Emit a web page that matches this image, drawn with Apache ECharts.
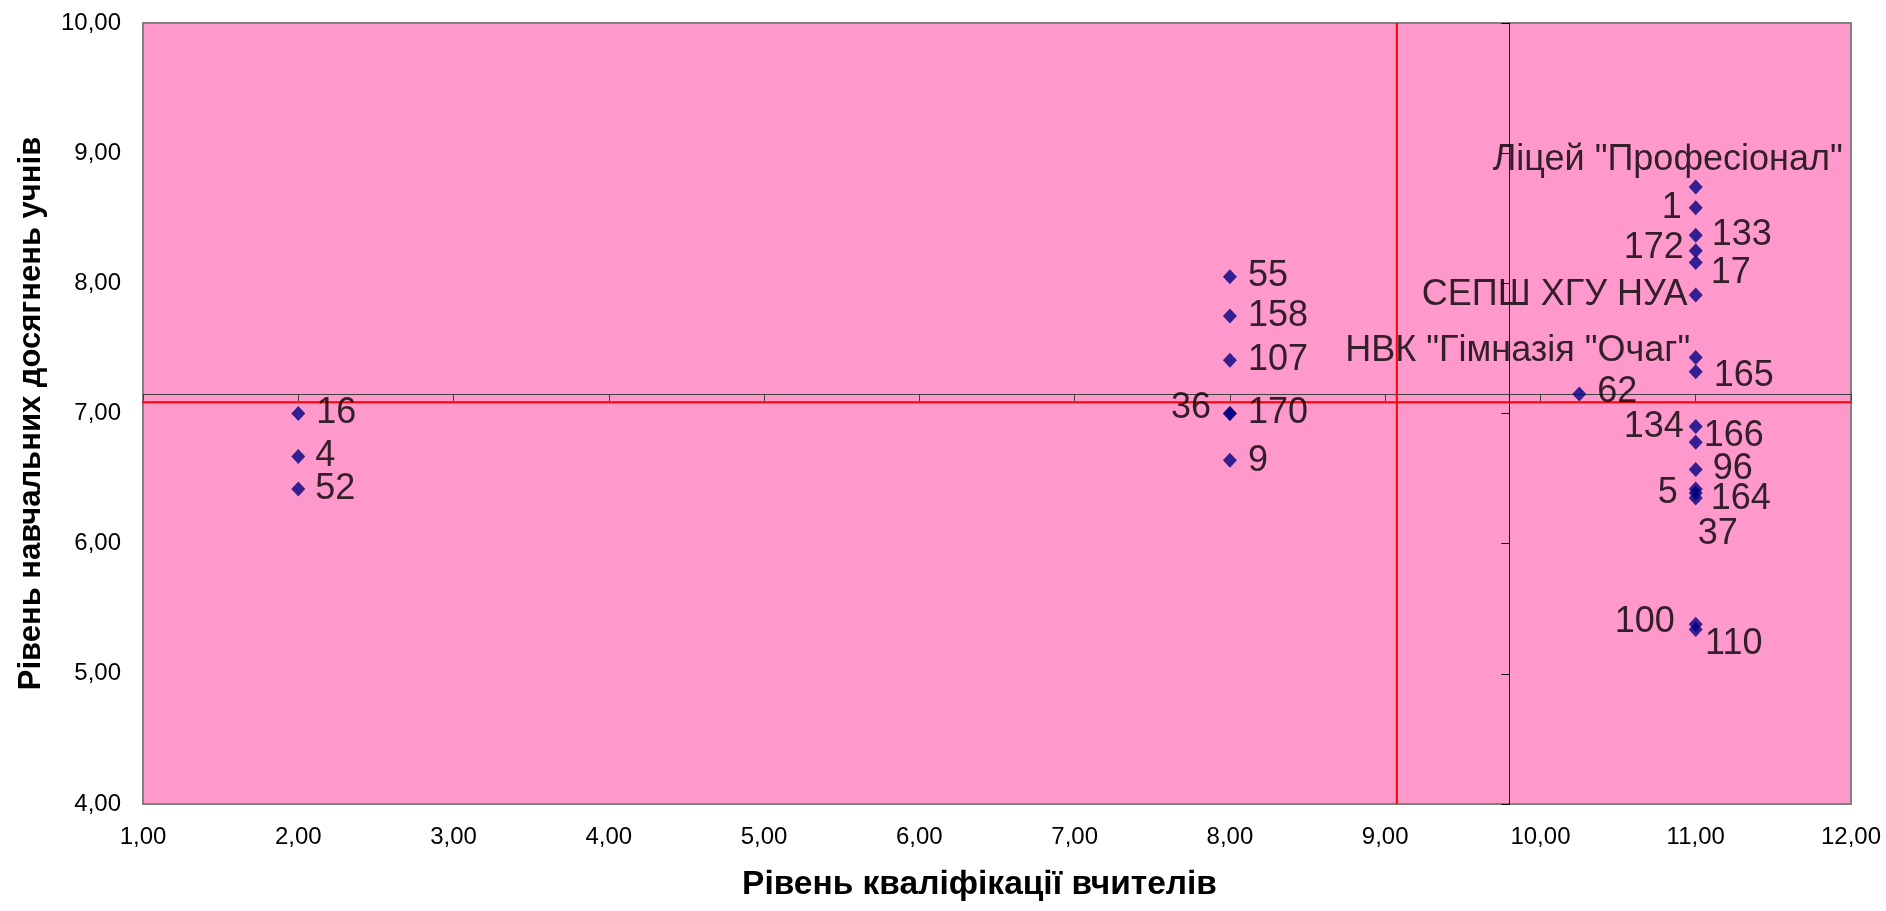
<!DOCTYPE html>
<html>
<head>
<meta charset="utf-8">
<style>html,body{margin:0;padding:0;background:#fff}#chart{width:1886px;height:911px}</style>
<script src="https://cdn.jsdelivr.net/npm/echarts@6/dist/echarts.min.js"></script>
</head>
<body>
<div id="chart"></div>
<script>
// ---- data ----
const schoolNames = ['16','4','52','55','158','107','36','170','9','Ліцей "Професіонал"','1','133','172','17','СЕПШ ХГУ НУА','НВК "Гімназія "Очаг"','165','62','134','166','96','37','5','164','100','110'];
const teacherLevel = [2,2,2,8,8,8,8,8,8,11,11,11,11,11,11,11,11,10.25,11,11,11,11,11,11,11,11];
const studentLevel = [7.00,6.67,6.42,8.05,7.75,7.41,7.00,7.00,6.64,8.74,8.58,8.37,8.25,8.16,7.91,7.43,7.32,7.15,6.90,6.78,6.57,6.42,6.39,6.35,5.38,5.34];
const xTicks = {min: 1, max: 12, step: 1};
const yTicks = {min: 4, max: 10, step: 1};
const axisCross = {x: 9.8, y: 7.15};
const redVertical = {x: 9.075, from: 4, to: 10};
const redHorizontal = {y: 7.086, from: 0.975, to: 12.05};

// ---- label placement (style only) ----
const labelOffsets = [[38,0],[27,0],[37,0],[38,-1],[48,0],[48,0],[-39,-5],[48,0],[28,1],[-28,-27],[-24,0],[46,0],[-42,-3],[35,11],[-141,0],[-178,-6],[48,4],[38,-2],[-42,1],[38,-6],[37,0],[22,45],[-28,0],[45,1],[-51,-2],[38,15]];

const FONT = '"Liberation Sans", Arial, sans-serif';
const fmt = v => v.toFixed(2).replace('.', ',');

const points = schoolNames.map((n, i) => ({
  name: n,
  value: [teacherLevel[i], studentLevel[i]],
  label: {offset: labelOffsets[i]}
}));

const chart = echarts.init(document.getElementById('chart'));
chart.setOption({
  animation: false,
  grid: {left: 143, top: 23, right: 35, bottom: 107, show: true, backgroundColor: '#FF99CC', borderColor: '#808080', borderWidth: 2},
  xAxis: [
    {type: 'value', position: 'bottom', min: xTicks.min, max: xTicks.max, interval: xTicks.step,
     name: 'Рівень кваліфікації вчителів', nameLocation: 'middle', nameGap: 64,
     nameTextStyle: {fontFamily: FONT, fontSize: 33.5, fontWeight: 'bold', color: '#000', padding: [0, 35, 0, 0]},
     axisLine: {show: false}, axisTick: {show: false}, splitLine: {show: false},
     axisLabel: {formatter: fmt, fontFamily: FONT, fontSize: 24, color: '#000', margin: 21}},
    {type: 'value', position: 'bottom', min: xTicks.min - axisCross.x, max: xTicks.max - axisCross.x,
     axisLine: {show: false}, axisTick: {show: false}, axisLabel: {show: false}, splitLine: {show: false}},
    {type: 'value', position: 'bottom', min: xTicks.min, max: xTicks.max, interval: xTicks.step,
     axisLine: {show: true, onZero: true, onZeroAxisIndex: 1, lineStyle: {color: '#404040', width: 1}},
     axisTick: {show: true, length: 7, lineStyle: {color: '#404040'}},
     axisLabel: {show: false}, splitLine: {show: false}}
  ],
  yAxis: [
    {type: 'value', position: 'left', min: yTicks.min, max: yTicks.max, interval: yTicks.step,
     name: 'Рівень навчальних досягнень учнів', nameLocation: 'middle', nameGap: 96,
     nameTextStyle: {fontFamily: FONT, fontSize: 31, fontWeight: 'bold', color: '#000'},
     axisLine: {show: false}, axisTick: {show: false}, splitLine: {show: false},
     axisLabel: {formatter: fmt, fontFamily: FONT, fontSize: 24, color: '#000', margin: 22}},
    {type: 'value', position: 'left', min: yTicks.min - axisCross.y, max: yTicks.max - axisCross.y,
     axisLine: {show: false}, axisTick: {show: false}, axisLabel: {show: false}, splitLine: {show: false}},
    {type: 'value', position: 'left', min: yTicks.min, max: yTicks.max, interval: yTicks.step,
     axisLine: {show: true, onZero: true, onZeroAxisIndex: 1, lineStyle: {color: '#000', width: 1}},
     axisTick: {show: true, length: 8, lineStyle: {color: '#000'}},
     axisLabel: {show: false}, splitLine: {show: false}}
  ],
  series: [
    {type: 'line', xAxisIndex: 0, yAxisIndex: 0, symbol: 'none', silent: true, clip: false, z: 3,
     lineStyle: {color: '#FF0000', width: 2},
     data: [[redHorizontal.from, redHorizontal.y], [redHorizontal.to, redHorizontal.y]]},
    {type: 'line', xAxisIndex: 0, yAxisIndex: 0, symbol: 'none', silent: true, clip: false, z: 3,
     lineStyle: {color: '#FF0000', width: 2},
     data: [[redVertical.x, redVertical.from], [redVertical.x, redVertical.to]]},
    {type: 'scatter', xAxisIndex: 0, yAxisIndex: 0, symbol: 'diamond', symbolSize: [14, 15], z: 4,
     itemStyle: {color: '#000080'},
     label: {show: true, position: 'inside', formatter: p => p.name, fontFamily: FONT, fontSize: 36, color: '#000',
             textBorderWidth: 0, textShadowBlur: 0, align: 'center', verticalAlign: 'middle'},
     data: points}
  ]
});
</script>
</body>
</html>
